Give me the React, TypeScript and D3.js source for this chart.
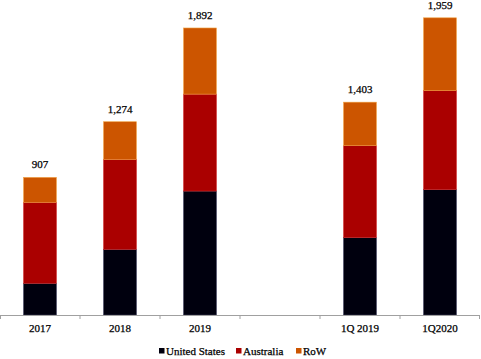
import React, { useRef, useEffect } from "react";
import * as d3 from "d3";

// categories (the empty slot is the gap between annual and quarterly bars)
const categories = ["2017", "2018", "2019", "", "1Q 2019", "1Q2020"];
const unitedStates = [209, 433, 817, 0, 510, 826];
const australia = [534, 593, 639, 0, 606, 653];
const rest = [164, 248, 436, 0, 287, 480];
const totals = ["907", "1,274", "1,892", "", "1,403", "1,959"];

const seriesNames = ["United States", "Australia", "RoW"];
const seriesColors = ["#00000e", "#aa0000", "#cc5500"];
const seriesEdges = ["#3a3a5a", "#d02a2a", "#f0a040"];

const width = 481;
const height = 359;
const font = "'Liberation Serif', 'Times New Roman', serif";

const App = () => {
  const ref = useRef<SVGSVGElement | null>(null);

  useEffect(() => {
    if (!ref.current) return;
    const svg = d3.select(ref.current);
    svg.selectAll("*").remove();

    const baseY = 315;
    const x = d3
      .scaleBand<number>()
      .domain(categories.map((_, i) => i))
      .range([0, 480])
      .paddingInner(0.59)
      .paddingOuter(0.295);
    const y = d3.scaleLinear().domain([0, 2000]).range([baseY, 11.6]);

    const rows = categories.map((c, i) => ({
      i,
      c,
      US: unitedStates[i],
      AU: australia[i],
      RoW: rest[i],
    }));
    const stack = d3.stack<any>().keys(["US", "AU", "RoW"]);
    const layers = stack(rows);

    layers.forEach((layer, k) => {
      svg
        .append("g")
        .selectAll("rect")
        .data(layer.filter((d) => d[1] > d[0]))
        .enter()
        .append("rect")
        .attr("x", (d) => x(d.data.i)!)
        .attr("width", x.bandwidth())
        .attr("y", (d) => y(d[1]))
        .attr("height", (d) => y(d[0]) - y(d[1]))
        .attr("fill", seriesColors[k])
        .attr("stroke", seriesEdges[k])
        .attr("stroke-width", 0.6);
    });

    // shared text look: serif, slightly heavy like the scanned original
    const styleText = (sel: any) =>
      sel
        .style("font-family", font)
        .style("font-size", "11px")
        .attr("fill", "#000")
        .attr("stroke", "#000")
        .attr("stroke-width", 0.25);

    // total labels
    const top = layers[layers.length - 1];
    svg
      .append("g")
      .selectAll("text")
      .data(top.filter((d) => totals[d.data.i] !== ""))
      .enter()
      .append("text")
      .attr("x", (d) => x(d.data.i)! + x.bandwidth() / 2)
      .attr("y", (d) => y(d[1]) - 9)
      .attr("text-anchor", "middle")
      .call(styleText)
      .text((d) => totals[d.data.i]);

    // axis line, ticks at category boundaries
    const axis = svg.append("g");
    axis
      .append("line")
      .attr("x1", 0)
      .attr("x2", 480)
      .attr("y1", baseY + 0.5)
      .attr("y2", baseY + 0.5)
      .attr("stroke", "#a0a0a0")
      .attr("stroke-width", 1);
    const gap = (x.step() - x.bandwidth()) / 2;
    const bounds = categories.map((_, i) => x(i)! - gap).concat([480]);
    axis
      .selectAll("line.tick")
      .data(bounds)
      .enter()
      .append("line")
      .attr("class", "tick")
      .attr("x1", (d) => Math.max(0.5, Math.min(479.5, d)))
      .attr("x2", (d) => Math.max(0.5, Math.min(479.5, d)))
      .attr("y1", baseY)
      .attr("y2", baseY + 4)
      .attr("stroke", "#a0a0a0");
    axis
      .selectAll("text")
      .data(categories)
      .enter()
      .append("text")
      .attr("x", (_, i) => x(i)! + x.bandwidth() / 2)
      .attr("y", 332)
      .attr("text-anchor", "middle")
      .call(styleText)
      .text((d) => d);

    // legend
    const legendX = [159, 236, 296];
    const legend = svg
      .append("g")
      .selectAll("g")
      .data(seriesNames)
      .enter()
      .append("g")
      .attr("transform", (_, i) => `translate(${legendX[i]}, 348)`);
    legend
      .append("rect")
      .attr("width", 5.5)
      .attr("height", 5.5)
      .attr("fill", (_, i) => seriesColors[i]);
    legend
      .append("text")
      .attr("x", 7)
      .attr("y", 7)
      .call(styleText)
      .text((d) => d);
  }, []);

  return (
    <svg
      ref={ref}
      width={width}
      height={height}
      viewBox={`0 0 ${width} ${height}`}
      style={{ position: "absolute", left: 0, top: 0, background: "#fff" }}
    />
  );
};

export default App;
